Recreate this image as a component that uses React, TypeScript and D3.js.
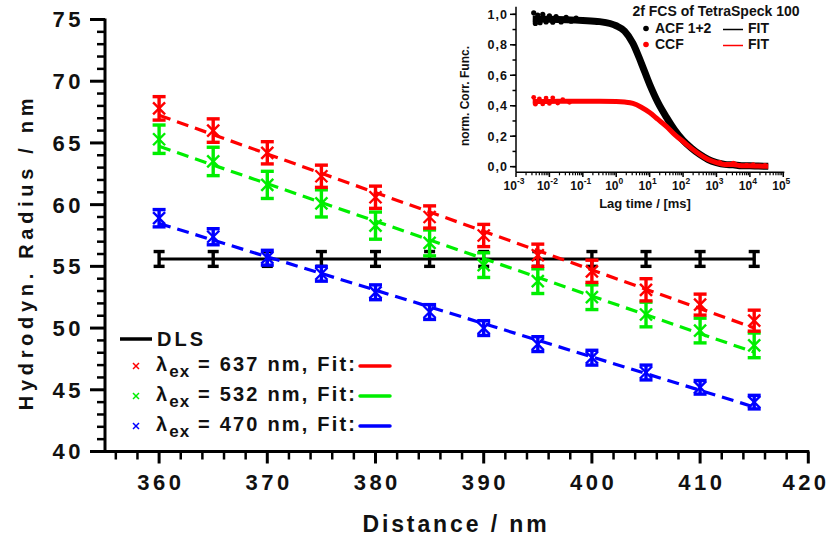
import React from "react";
import * as d3 from "d3";

// ---------- Main chart data ----------
const distances = [360, 365, 370, 375, 380, 385, 390, 395, 400, 405, 410, 415];
const dlsValues = [55.6, 55.6, 55.6, 55.6, 55.6, 55.6, 55.6, 55.6, 55.6, 55.6, 55.6, 55.6];
const dlsErr = [0.6, 0.6, 0.6, 0.6, 0.6, 0.6, 0.6, 0.6, 0.6, 0.6, 0.6, 0.6];
const red637 = [67.8, 66.0, 64.2, 62.3, 60.6, 59.0, 57.5, 55.9, 54.6, 53.1, 51.9, 50.6];
const red637Err = [0.95, 0.95, 0.9, 0.9, 0.9, 0.9, 0.9, 0.9, 0.9, 0.9, 0.85, 0.85];
const green532 = [65.3, 63.5, 61.6, 60.1, 58.3, 56.9, 55.1, 53.8, 52.5, 51.1, 49.8, 48.6];
const green532Err = [1.15, 1.15, 1.1, 1.1, 1.1, 1.05, 1.0, 1.0, 1.0, 1.0, 1.0, 1.0];
const blue470 = [58.9, 57.4, 55.7, 54.4, 52.9, 51.3, 50.0, 48.7, 47.6, 46.4, 45.2, 44.0];
const blue470Err = [0.7, 0.65, 0.6, 0.6, 0.6, 0.6, 0.6, 0.6, 0.6, 0.6, 0.55, 0.55];
const yTicks = [40, 45, 50, 55, 60, 65, 70, 75];
const xTicks = [360, 370, 380, 390, 400, 410, 420];
const legendLabels = ["637", "532", "470"];

// ---------- Inset data (log10 lag time [ms], normalized correlation) ----------
const acfLog = [-2.5, -2, -1.5, -1, -0.5, 0, 0.25, 0.5, 0.75, 1.0, 1.25, 1.5, 1.75, 2.0, 2.25, 2.5, 2.75, 3.0, 3.25, 3.5, 3.75, 4.0, 4.25, 4.55];
const acfVal = [0.97, 0.968, 0.965, 0.96, 0.952, 0.925, 0.89, 0.81, 0.68, 0.54, 0.42, 0.325, 0.24, 0.172, 0.122, 0.08, 0.047, 0.027, 0.015, 0.012, 0.006, 0.006, 0.004, 0.003];
const ccfLog = [-2.5, -2, -1.5, -1, -0.5, 0, 0.25, 0.5, 0.75, 1.0, 1.25, 1.5, 1.75, 2.0, 2.25, 2.5, 2.75, 3.0, 3.25, 3.5, 3.75, 4.0, 4.25, 4.55];
const ccfVal = [0.43, 0.428, 0.43, 0.43, 0.43, 0.428, 0.424, 0.415, 0.39, 0.355, 0.31, 0.265, 0.21, 0.165, 0.12, 0.08, 0.047, 0.027, 0.015, 0.014, 0.006, 0.006, 0.004, 0.003];
const acfScatterLog = [-2.47, -2.42, -2.35, -2.28, -2.2, -2.1, -2.0, -1.9, -1.8, -1.65, -1.5, -1.35, -1.2];
const acfScatterVal = [1.01, 0.94, 0.995, 0.945, 1.0, 0.95, 0.99, 0.948, 0.985, 0.95, 0.98, 0.955, 0.975];
const ccfScatterLog = [-2.47, -2.42, -2.3, -2.2, -2.1, -2.0, -1.9, -1.75, -1.6, -1.4];
const ccfScatterVal = [0.455, 0.41, 0.445, 0.412, 0.45, 0.415, 0.452, 0.418, 0.44, 0.422];
const tailNoiseLog = [3.1, 3.3, 3.5, 3.55, 3.7, 3.9, 4.1, 4.3, 4.45];
const tailNoiseVal = [0.03, 0.01, 0.025, 0.02, 0.008, 0.012, 0.015, 0.005, 0.01];
const insetYTicks = [0, 0.2, 0.4, 0.6, 0.8, 1.0];
const insetXExp = [-3, -2, -1, 0, 1, 2, 3, 4, 5];

const FONT = "'Liberation Sans', Arial, Helvetica, sans-serif";

function linFit(xs: number[], ys: number[]) {
  const n = xs.length;
  const mx = d3.mean(xs) as number;
  const my = d3.mean(ys) as number;
  let sxy = 0, sxx = 0;
  for (let i = 0; i < n; i++) {
    sxy += (xs[i] - mx) * (ys[i] - my);
    sxx += (xs[i] - mx) * (xs[i] - mx);
  }
  const b = sxy / sxx;
  const a = my - b * mx;
  return (x: number) => a + b * x;
}

export default function App() {
  const x = d3.scaleLinear().domain([355, 420]).range([105, 808.3]);
  const y = d3.scaleLinear().domain([40, 75]).range([451.5, 19.5]);

  const series = [
    { vals: blue470, err: blue470Err, color: "#0000ff" },
    { vals: green532, err: green532Err, color: "#00ee00" },
    { vals: red637, err: red637Err, color: "#ff0000" },
  ];

  const xMinor = d3.range(356, 421, 2);
  const yMinor = d3.range(40, 75.01, 1);

  const renderErr = (vals: number[], errs: number[], color: string, key: string, capW: number) =>
    distances.map((d, i) => {
      const cx = x(d);
      const y1 = y(vals[i] - errs[i]);
      const y2 = y(vals[i] + errs[i]);
      return (
        <g key={key + i} stroke={color} strokeWidth={3.4}>
          <line x1={cx} x2={cx} y1={y1} y2={y2} />
          <line x1={cx - capW / 2} x2={cx + capW / 2} y1={y1} y2={y1} />
          <line x1={cx - capW / 2} x2={cx + capW / 2} y1={y2} y2={y2} />
        </g>
      );
    });

  const renderMarkers = (vals: number[], color: string, key: string, s: number) =>
    distances.map((d, i) => {
      const cx = x(d);
      const cy = y(vals[i]);
      return (
        <g key={key + "m" + i} stroke={color} strokeWidth={2.4}>
          <line x1={cx - s} x2={cx + s} y1={cy - s} y2={cy + s} />
          <line x1={cx - s} x2={cx + s} y1={cy + s} y2={cy - s} />
        </g>
      );
    });

  // ---------- inset scales ----------
  const ix = d3.scaleLog().domain([1e-3, 1e5]).range([516, 783.3]);
  const iy = d3.scaleLinear().domain([-0.037, 1.05]).range([172.3, 6.7]);
  const curve = d3
    .line<[number, number]>()
    .x((p) => ix(Math.pow(10, p[0])))
    .y((p) => iy(p[1]))
    .curve(d3.curveMonotoneX);
  const acfPts = acfLog.map((l, i) => [l, acfVal[i]] as [number, number]);
  const ccfPts = ccfLog.map((l, i) => [l, ccfVal[i]] as [number, number]);
  const insetXMinor: number[] = [];
  for (let e = -3; e < 5; e++) for (let k = 2; k <= 9; k++) insetXMinor.push(k * Math.pow(10, e));
  const insetYMinor = d3.range(0, 1.01, 0.1);

  return (
    <svg
      width={831}
      height={538}
      style={{ position: "absolute", left: 0, top: 0, background: "#fff" }}
      fontFamily={FONT}
      fontWeight="bold"
    >
      <rect width={831} height={538} fill="#fff" />

      {/* ---------- main axes ---------- */}
      <g stroke="#000" strokeWidth={3}>
        <line x1={105} x2={105} y1={y(75) - 1} y2={y(40) + 1.5} />
        <line x1={103.5} x2={x(420) + 1} y1={y(40)} y2={y(40)} />
        {yTicks.map((t) => (
          <line key={"yt" + t} x1={90} x2={105} y1={y(t)} y2={y(t)} />
        ))}
        {yMinor
          .filter((t) => !yTicks.includes(Math.round(t)))
          .map((t) => (
            <line key={"ym" + t} x1={97} x2={105} y1={y(t)} y2={y(t)} strokeWidth={2.5} />
          ))}
        {xTicks.map((t) => (
          <line key={"xt" + t} x1={x(t)} x2={x(t)} y1={y(40)} y2={y(40) + 12} />
        ))}
        {xMinor
          .filter((t) => t % 10 !== 0)
          .map((t) => (
            <line key={"xm" + t} x1={x(t)} x2={x(t)} y1={y(40)} y2={y(40) + 8} strokeWidth={2.5} />
          ))}
      </g>
      <g fontSize={22} fill="#111" letterSpacing={3.5}>
        {yTicks.map((t) => (
          <text key={"yl" + t} x={84} y={y(t)} dy="0.36em" textAnchor="end">
            {t}
          </text>
        ))}
        {xTicks.map((t) => (
          <text key={"xl" + t} x={Math.min(x(t) + 1.75, 806)} y={490} textAnchor="middle">
            {t}
          </text>
        ))}
      </g>
      <text x={456} y={532} fontSize={23} letterSpacing={2.9} textAnchor="middle" fill="#111">
        Distance / nm
      </text>
      <text
        transform={`translate(33,252) rotate(-90)`}
        fontSize={20}
        letterSpacing={4.7}
        textAnchor="middle"
        fill="#111"
      >
        Hydrodyn. Radius / nm
      </text>

      {/* ---------- DLS ---------- */}
      <line
        x1={x(distances[0])}
        x2={x(distances[distances.length - 1])}
        y1={y(dlsValues[0])}
        y2={y(dlsValues[0])}
        stroke="#000"
        strokeWidth={3}
      />
      {renderErr(dlsValues, dlsErr, "#000", "dls", 11)}

      {/* ---------- series ---------- */}
      {series.map((s, si) => {
        const f = linFit(distances, s.vals);
        return (
          <g key={"s" + si}>
            <line
              x1={x(distances[0])}
              x2={x(distances[distances.length - 1])}
              y1={y(f(distances[0]))}
              y2={y(f(distances[distances.length - 1]))}
              stroke={s.color}
              strokeWidth={3.2}
              strokeDasharray="12,7"
            />
            {renderErr(s.vals, s.err, s.color, "e" + si, 13)}
            {renderMarkers(s.vals, s.color, "m" + si, 6)}
          </g>
        );
      })}

      {/* ---------- legend ---------- */}
      <line x1={120} x2={152} y1={339} y2={339} stroke="#000" strokeWidth={3.5} />
      <text x={157} y={346} fontSize={20} letterSpacing={3} fill="#111">
        DLS
      </text>
      {legendLabels.map((lab, i) => {
        const cy = 366 + i * 30;
        const col = ["#ff0000", "#00ee00", "#0000ff"][i];
        return (
          <g key={"lg" + i}>
            <g stroke={col} strokeWidth={1.5}>
              <line x1={133} x2={139} y1={cy - 3} y2={cy + 3} />
              <line x1={133} x2={139} y1={cy + 3} y2={cy - 3} />
            </g>
            <text x={156} y={cy + 5} fontSize={20} fill="#111" letterSpacing={2.2}>
              λ
              <tspan fontSize={17} dy={6} letterSpacing={1}>
                ex
              </tspan>
              <tspan dy={-6} letterSpacing={2.2}>
                {" "}= {lab} nm, Fit:
              </tspan>
            </text>
            <line x1={360} x2={390} y1={cy} y2={cy} stroke={col} strokeWidth={3.5} strokeLinecap="round" />
          </g>
        );
      })}

      {/* ---------- inset ---------- */}
      <g>
        <path d={curve(acfPts) as string} fill="none" stroke="#000" strokeWidth={7} strokeLinejoin="round" />
        {acfScatterLog.map((l, i) => (
          <circle key={"as" + i} cx={ix(Math.pow(10, l))} cy={iy(acfScatterVal[i])} r={2.6} fill="#000" />
        ))}
        <path d={curve(ccfPts) as string} fill="none" stroke="#ff0000" strokeWidth={5} strokeLinejoin="round" />
        {ccfScatterLog.map((l, i) => (
          <circle key={"cs" + i} cx={ix(Math.pow(10, l))} cy={iy(ccfScatterVal[i])} r={2.4} fill="#ff0000" />
        ))}
        {tailNoiseLog.map((l, i) => (
          <circle key={"tn" + i} cx={ix(Math.pow(10, l))} cy={iy(tailNoiseVal[i])} r={2.2} fill="#ff0000" />
        ))}
      </g>
      <g stroke="#000" strokeWidth={1.5}>
        <line x1={516} x2={516} y1={6.7} y2={172.3} />
        <line x1={516} x2={784.3} y1={172.3} y2={172.3} />
        {insetYTicks.map((t) => (
          <line key={"iyt" + t} x1={510} x2={516} y1={iy(t)} y2={iy(t)} />
        ))}
        {insetYMinor.map((t, i) => (
          <line key={"iym" + i} x1={512.5} x2={516} y1={iy(t)} y2={iy(t)} />
        ))}
        {insetXExp.map((e) => (
          <line key={"ixt" + e} x1={ix(Math.pow(10, e))} x2={ix(Math.pow(10, e))} y1={172.3} y2={177} />
        ))}
        {insetXMinor.map((v, i) => (
          <line key={"ixm" + i} x1={ix(v)} x2={ix(v)} y1={172.3} y2={175.3} strokeWidth={1.2} />
        ))}
      </g>
      <g fontSize={12.5} fill="#111">
        {insetYTicks.map((t) => (
          <text key={"iyl" + t} x={508} y={iy(t)} dy="0.36em" textAnchor="end" letterSpacing={1}>
            {t.toFixed(1).replace(".", ",")}
          </text>
        ))}
        {insetXExp.map((e) => (
          <text key={"ixl" + e} x={ix(Math.pow(10, e)) - 2} y={190} textAnchor="middle" fontSize={12}>
            10
            <tspan fontSize={8.5} dy={-6}>
              {e}
            </tspan>
          </text>
        ))}
      </g>
      <text x={645} y={208} fontSize={13} textAnchor="middle" fill="#111">
        Lag time / [ms]
      </text>
      <text transform="translate(469,96) rotate(-90)" fontSize={12} textAnchor="middle" fill="#111">
        norm. Corr. Func.
      </text>
      <text x={716} y={16} fontSize={14} textAnchor="middle" fill="#111">
        2f FCS of TetraSpeck 100
      </text>
      <circle cx={646} cy={28.5} r={2.8} fill="#000" />
      <text x={655} y={33} fontSize={14} fill="#111">
        ACF 1+2
      </text>
      <line x1={723} x2={743} y1={29.5} y2={29.5} stroke="#000" strokeWidth={1.5} />
      <text x={748} y={33} fontSize={14} fill="#111">
        FIT
      </text>
      <circle cx={646} cy={44.5} r={2.8} fill="#ff0000" />
      <text x={655} y={49} fontSize={14} fill="#111">
        CCF
      </text>
      <line x1={723} x2={743} y1={45.5} y2={45.5} stroke="#ff0000" strokeWidth={1.5} />
      <text x={748} y={49} fontSize={14} fill="#111">
        FIT
      </text>
    </svg>
  );
}
